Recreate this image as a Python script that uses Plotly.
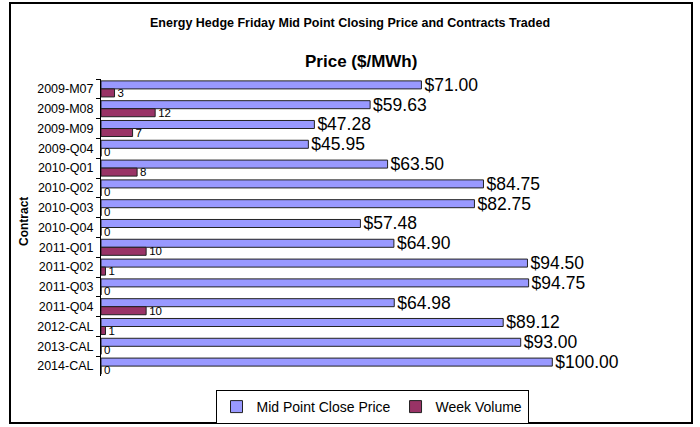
import plotly.graph_objects as go

categories = ["2009-M07", "2009-M08", "2009-M09", "2009-Q04", "2010-Q01", "2010-Q02",
              "2010-Q03", "2010-Q04", "2011-Q01", "2011-Q02", "2011-Q03", "2011-Q04",
              "2012-CAL", "2013-CAL", "2014-CAL"]
price = [71.00, 59.63, 47.28, 45.95, 63.50, 84.75, 82.75, 57.48, 64.90, 94.50,
         94.75, 64.98, 89.12, 93.00, 100.00]
volume = [3, 12, 7, 0, 8, 0, 0, 0, 10, 1, 0, 10, 1, 0, 0]

FONT = "Liberation Sans, Arial, sans-serif"

# plot area geometry (pixels)
L, R, T, B = 101, 80, 79, 51
W, H = 700, 427
pw = W - L - R
ph = H - T - B

def px_x(p):
    return (p - L) / pw

def px_y(p):
    return (H - B - p) / ph

fig = go.Figure()
fig.add_trace(go.Bar(
    y=categories, x=price, orientation="h", name="Mid Point Close Price",
    marker=dict(color="#9999FF", line=dict(color="#222222", width=1)),
    text=[f"${v:.2f}" for v in price], textposition="outside",
    textfont=dict(family=FONT, size=17.5, color="#000000"),
    constraintext="none", cliponaxis=False,
))
fig.add_trace(go.Bar(
    y=categories, x=volume, orientation="h", name="Week Volume",
    marker=dict(color="#993366", line=dict(color="#222222", width=1)),
    text=[str(v) for v in volume], textposition="outside",
    textfont=dict(family=FONT, size=11.5, color="#000000"),
    constraintext="none", cliponaxis=False,
))

fig.update_layout(
    width=W, height=H,
    margin=dict(l=L, r=R, t=T, b=B, autoexpand=False),
    barmode="group", bargap=0.19, bargroupgap=0,
    paper_bgcolor="white", plot_bgcolor="white",
    font=dict(family=FONT, size=12, color="#000000"),
    title=dict(text="<b>Energy Hedge Friday Mid Point Closing Price and Contracts Traded</b>",
               x=0.5, xanchor="center", y=1 - 23 / H, yanchor="middle",
               font=dict(family=FONT, size=12.5, color="#000000")),
    xaxis=dict(range=[0, 115], visible=False, showgrid=False, zeroline=False),
    yaxis=dict(autorange="reversed", type="category", showgrid=False, automargin=False,
               showline=True, linecolor="#000000", linewidth=1,
               ticks="outside", ticklen=4, tickcolor="#000000", tickson="boundaries",
               ticklabelstandoff=4,
               tickfont=dict(family=FONT, size=12.5, color="#000000")),
    legend=dict(orientation="h", x=px_x(372), xanchor="center", y=px_y(407), yanchor="middle",
                bordercolor="#000000", borderwidth=1, bgcolor="white", itemwidth=30,
                font=dict(family=FONT, size=14, color="#000000"), traceorder="normal"),
    showlegend=True,
)

fig.add_annotation(text="<b>Price ($/MWh)</b>", xref="paper", yref="paper",
                   x=0.5, y=px_y(62), xanchor="center", yanchor="middle", showarrow=False,
                   font=dict(family=FONT, size=17, color="#000000"))
fig.add_annotation(text="<b>Contract</b>", xref="paper", yref="paper", textangle=-90,
                   x=px_x(24), y=px_y(222), xanchor="center", yanchor="middle", showarrow=False,
                   font=dict(family=FONT, size=12, color="#000000"))

fig.add_shape(type="rect", xref="paper", yref="paper",
              x0=px_x(10), x1=px_x(692), y0=px_y(423), y1=px_y(3),
              line=dict(color="#000000", width=2), layer="below")

fig.write_html("out.html", config={"displayModeBar": False},
               post_script="document.body.style.margin='0';document.body.style.overflow='hidden';")
